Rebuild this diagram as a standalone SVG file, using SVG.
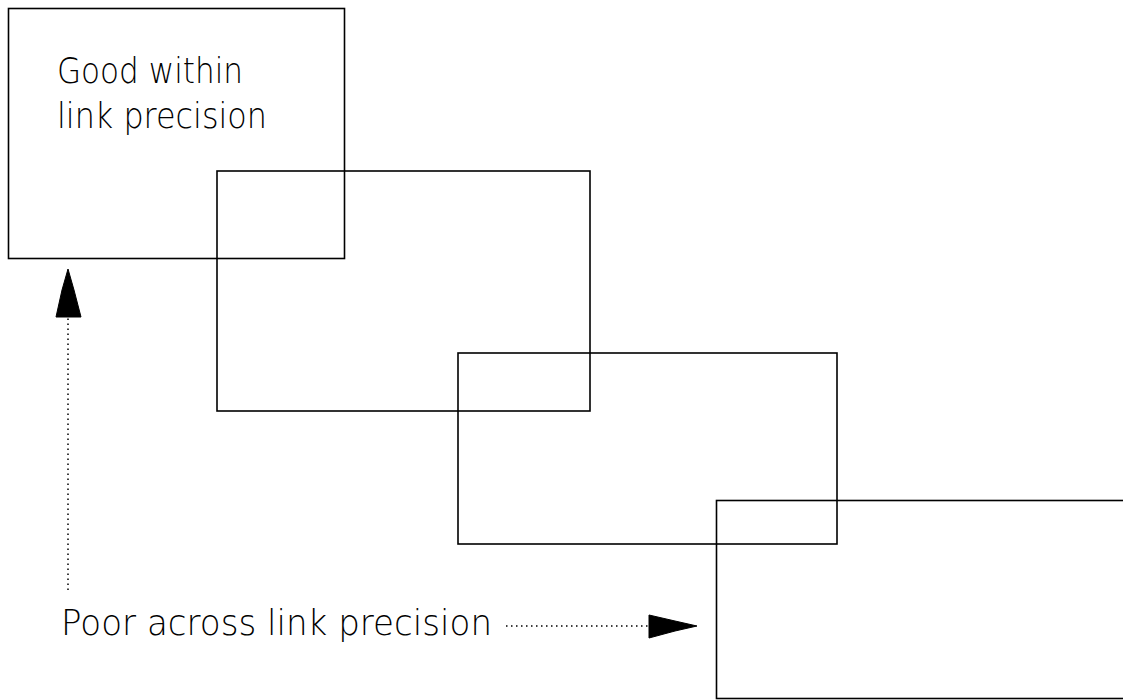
<svg xmlns="http://www.w3.org/2000/svg" width="1123" height="700" viewBox="0 0 1123 700">
<style>
.box{fill:none;stroke:#000;stroke-width:1.6}
.lbl{font-family:"DejaVu Sans","Liberation Sans",sans-serif;font-weight:200;font-size:35px;fill:#000}
.dot{fill:none;stroke:#000;stroke-width:1.5;stroke-dasharray:1.5 3.5}
.head{fill:#000;stroke:#000;stroke-width:1}
</style>
<rect width="1123" height="700" fill="#fff"/>
<g id="box1">
<rect class="box" x="8.5" y="8.5" width="336" height="250"/>
<text class="lbl" x="57" y="83" textLength="186" lengthAdjust="spacingAndGlyphs">Good within</text>
<text class="lbl" x="57" y="128" textLength="210" lengthAdjust="spacingAndGlyphs">link precision</text>
</g>
<g id="box2"><rect class="box" x="217" y="171" width="373" height="240"/></g>
<g id="box3"><rect class="box" x="458" y="353" width="379" height="191"/></g>
<g id="box4"><rect class="box" x="716.5" y="500.5" width="420" height="198"/></g>
<g id="label-poor">
<text class="lbl" x="61" y="635" textLength="431" lengthAdjust="spacingAndGlyphs">Poor across link precision</text>
</g>
<g id="connectors">
<line class="dot" x1="68" y1="590" x2="68" y2="318"/>
<polygon class="head" points="68,269 62,290 56,317 81,317 74,290"/>
<line class="dot" x1="506" y1="626" x2="649" y2="626"/>
<polygon class="head" points="649,615 675,621 697,626 675,631 649,638"/>
</g>
</svg>
